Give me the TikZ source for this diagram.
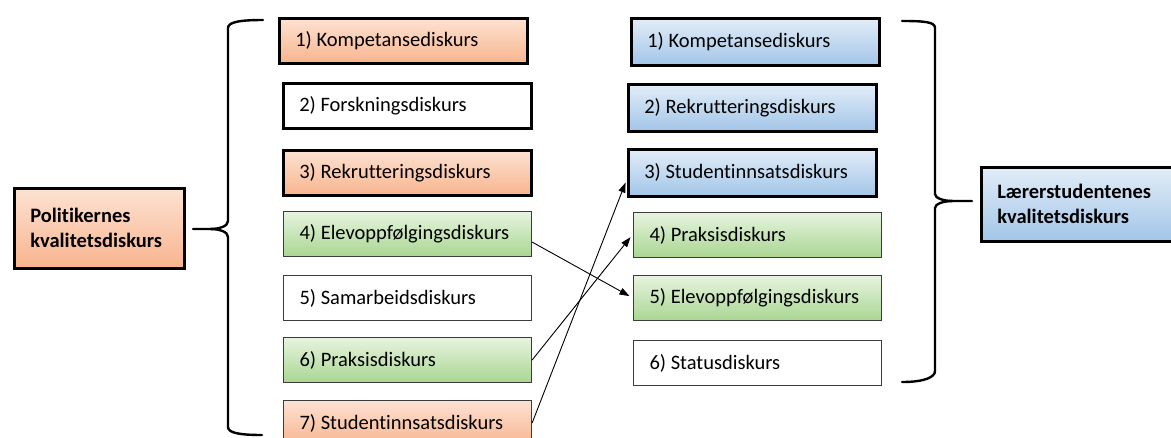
\documentclass[tikz,border=0pt]{standalone}
\usepackage{fontspec}
\setmainfont{Carlito}[Ligatures=NoCommon]
\usepackage{xcolor}
\usetikzlibrary{arrows.meta}
\definecolor{orangetop}{HTML}{FDE2D2}
\definecolor{orangebot}{HTML}{F8B48E}
\definecolor{greentop}{HTML}{E7F4DF}
\definecolor{greenbot}{HTML}{A9D692}
\definecolor{bluetop}{HTML}{E2EDF8}
\definecolor{bluebot}{HTML}{A2C5E8}
\definecolor{edge}{HTML}{3C3C3C}
\tikzset{
  disk/.style={anchor=north west, minimum width=248pt, minimum height=45pt,
    inner xsep=16pt, inner ysep=0pt,
    execute at begin node={\hbox to 216pt\bgroup},
    execute at end node={\hss\egroup},
    font=\fontsize{20.5}{22}\selectfont},
  heavy/.style={draw=black, line width=2.6pt},
  light/.style={draw=edge, line width=1.1pt},
  orange/.style={top color=orangetop, bottom color=orangebot},
  green/.style={top color=greentop, bottom color=greenbot},
  blue/.style={top color=bluetop, bottom color=bluebot},
  head/.style={anchor=north west, heavy, inner xsep=16pt, inner ysep=0pt,
    align=left, font=\bfseries\fontsize{20.5}{25}\selectfont},
  brace/.style={draw=black, line width=2.4pt, line cap=round, line join=round},
  link/.style={draw=black, line width=0.9pt, shorten >=4pt,
    -{Triangle[length=10pt,width=7pt]}},
}

\begin{document}
\begin{tikzpicture}[x=1pt,y=-1pt]
  \useasboundingbox (0,0) rectangle (1171,437);

  % left column
  \node[disk,heavy,orange] (L1) at (278,17) {1) Kompetansediskurs};
  \node[disk,heavy] (L2) at (282,82) {2) Forskningsdiskurs};
  \node[disk,heavy,orange] (L3) at (282,149) {3) Rekrutteringsdiskurs};
  \node[disk,light,green] (L4) at (283,211) {4) Elevoppfølgingsdiskurs};
  \node[disk,light] (L5) at (283,275) {5) Samarbeidsdiskurs};
  \node[disk,light,green] (L6) at (283,337) {6) Praksisdiskurs};
  \node[disk,light,orange] (L7) at (283,400) {7) Studentinnsatsdiskurs};

  % right column
  \node[disk,heavy,blue,minimum height=47pt] (R1) at (630,17) {1) Kompetansediskurs};
  \node[disk,heavy,blue,minimum height=47pt] (R2) at (627,83) {2) Rekrutteringsdiskurs};
  \node[disk,heavy,blue,minimum height=47pt] (R3) at (627,148) {3) Studentinnsatsdiskurs};
  \node[disk,light,green] (R4) at (633,212) {4) Praksisdiskurs};
  \node[disk,light,green] (R5) at (633,275) {5) Elevoppfølgingsdiskurs};
  \node[disk,light] (R6) at (633,340) {6) Statusdiskurs};

  % the two main discourses
  \node[head,orange,minimum width=170pt,minimum height=80pt,text width=138pt] (pol)
    at (13,187) {Politikernes\\kvalitetsdiskurs};
  \node[head,blue,minimum width=200pt,minimum height=74pt,text width=168pt] (stud)
    at (980,166) {Lærerstudentenes\\kvalitetsdiskurs};

  % braces
  \draw[brace] (263,20) .. controls (240,20) and (228,22) .. (228,28) -- (228,221)
    .. controls (228,226) and (220,229) .. (210,229) -- (193,229);
  \draw[brace] (210,229) .. controls (220,229) and (228,232) .. (228,237) -- (228,427)
    .. controls (228,433) and (240,435) .. (262,435);
  \draw[brace] (902,21) .. controls (925,21) and (935,22) .. (935,28) -- (935,194)
    .. controls (935,198) and (943,201) .. (953,201) -- (972,201);
  \draw[brace] (953,201) .. controls (943,201) and (935,204) .. (935,208) -- (935,371)
    .. controls (935,377) and (925,382) .. (902,382);

  % moves between the lists
  \draw[link] ([yshift=-8pt]L4.east) -- (R5.west);
  \draw[link] (L6.east) -- ([yshift=1pt]R4.west);
  \draw[link] (L7.east) -- ([yshift=-6pt]R3.west);
\end{tikzpicture}
\end{document}
